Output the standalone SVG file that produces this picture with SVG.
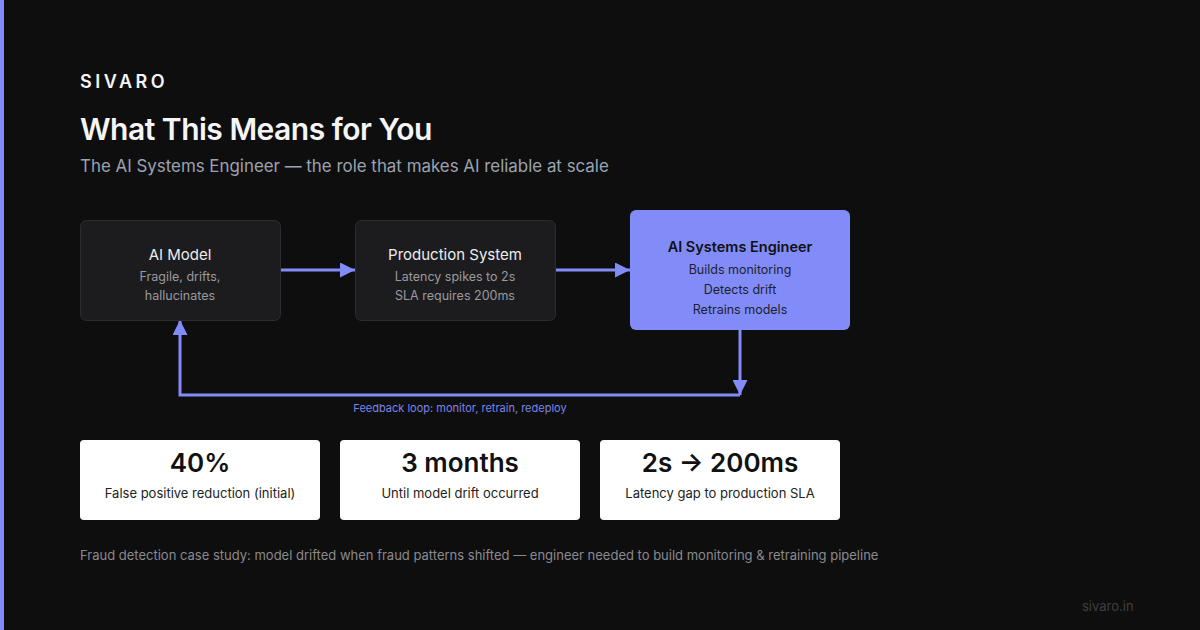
<svg xmlns="http://www.w3.org/2000/svg" width="1200" height="630" viewBox="0 0 1200 630">
<style>
text{font-family:Inter,"Liberation Sans",sans-serif}
.box{fill:#1c1c1e;stroke:#2c2c2f;stroke-width:1}
.bt{fill:#ededed;font-size:15px;text-anchor:middle}
.bs{fill:#9a9a9e;font-size:12.5px;text-anchor:middle}
.et{fill:#111;font-size:14.5px;font-weight:600;text-anchor:middle}
.es{fill:#1e1e2e;font-size:12.5px;text-anchor:middle}
.card{fill:#ffffff}
.big{fill:#111;font-size:26px;font-weight:600;text-anchor:middle}
.lab{fill:#222;font-size:13px;text-anchor:middle}
.conn{stroke:#818cf8;stroke-width:3;fill:none}
</style>
<defs>
<marker id="ah" viewBox="0 0 10 10" refX="10" refY="5" markerWidth="5" markerHeight="5" markerUnits="strokeWidth" orient="auto"><path d="M0,0L10,5L0,10z" fill="#818cf8"/></marker>
</defs>
<rect width="1200" height="630" fill="#0e0e0f"/>
<rect width="4" height="630" fill="#818cf8"/>
<text x="80" y="88" fill="#f5f5f5" font-size="18" font-weight="600" letter-spacing="3.5">SIVARO</text>
<text x="80" y="140" fill="#f5f5f5" font-size="30" font-weight="600" letter-spacing="-0.5">What This Means for You</text>
<text x="80" y="172" fill="#9ca3af" font-size="16.9">The AI Systems Engineer — the role that makes AI reliable at scale</text>
<g id="connectors">
<line class="conn" x1="280" y1="270" x2="355" y2="270" marker-end="url(#ah)"/>
<line class="conn" x1="555" y1="270" x2="630" y2="270" marker-end="url(#ah)"/>
<line class="conn" x1="740" y1="330" x2="740" y2="395" marker-end="url(#ah)"/>
<polyline class="conn" points="740,395 180,395 180,320" marker-end="url(#ah)"/>
<text x="460" y="412" fill="#7c84e8" font-size="11" text-anchor="middle">Feedback loop: monitor, retrain, redeploy</text>
</g>
<g id="node-model">
<rect class="box" x="80.5" y="220.5" width="200" height="100" rx="6"/>
<text class="bt" x="180" y="260">AI Model</text>
<text class="bs" x="180" y="281">Fragile, drifts,</text>
<text class="bs" x="180" y="300">hallucinates</text>
</g>
<g id="node-production">
<rect class="box" x="355.5" y="220.5" width="200" height="100" rx="6"/>
<text class="bt" x="455" y="260">Production System</text>
<text class="bs" x="455" y="281">Latency spikes to 2s</text>
<text class="bs" x="455" y="300">SLA requires 200ms</text>
</g>
<g id="node-engineer">
<rect x="630" y="210" width="220" height="120" rx="6" fill="#818cf8"/>
<text class="et" x="740" y="252">AI Systems Engineer</text>
<text class="es" x="740" y="274">Builds monitoring</text>
<text class="es" x="740" y="294">Detects drift</text>
<text class="es" x="740" y="314">Retrains models</text>
</g>
<g id="stat-1">
<rect class="card" x="80" y="440" width="240" height="80" rx="4"/>
<text class="big" x="200" y="472">40%</text>
<text class="lab" x="200" y="498">False positive reduction (initial)</text>
</g>
<g id="stat-2">
<rect class="card" x="340" y="440" width="240" height="80" rx="4"/>
<text class="big" x="460" y="472">3 months</text>
<text class="lab" x="460" y="498">Until model drift occurred</text>
</g>
<g id="stat-3">
<rect class="card" x="600" y="440" width="240" height="80" rx="4"/>
<text class="big" x="720" y="472">2s → 200ms</text>
<text class="lab" x="720" y="498">Latency gap to production SLA</text>
</g>
<text x="80" y="560" fill="#8a8a8e" font-size="13">Fraud detection case study: model drifted when fraud patterns shifted — engineer needed to build monitoring &amp; retraining pipeline</text>
<text x="1082" y="611" fill="#3e3e42" font-size="13">sivaro.in</text>
</svg>
